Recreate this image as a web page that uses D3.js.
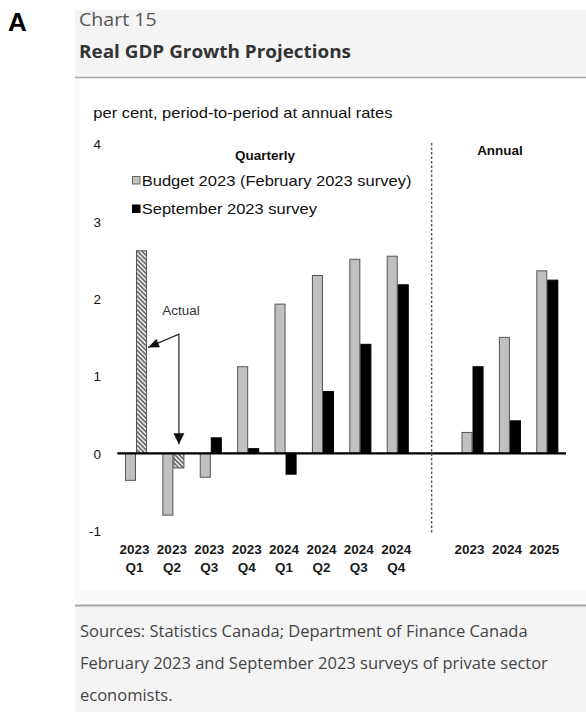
<!DOCTYPE html>
<html>
<head>
<meta charset="utf-8">
<script src="https://cdn.jsdelivr.net/npm/d3@7/dist/d3.min.js"></script>
<style>
  html, body { margin: 0; padding: 0; background: #fff; }
  svg { display: block; }
</style>
</head>
<body>
<svg id="chart" width="586" height="712"></svg>
<script>
// ---- data ----
const quarters = ["2023 Q1", "2023 Q2", "2023 Q3", "2023 Q4", "2024 Q1", "2024 Q2", "2024 Q3", "2024 Q4"];
const years = ["2023", "2024", "2025"];
const budgetQuarterly = [-0.35, -0.80, -0.31, 1.12, 1.93, 2.30, 2.51, 2.55];
const septemberQuarterly = [2.62, -0.19, 0.20, 0.06, -0.27, 0.80, 1.41, 2.18];
const budgetAnnual = [0.27, 1.50, 2.36];
const septemberAnnual = [1.12, 0.42, 2.24];
const actualQuarters = ["2023 Q1", "2023 Q2"];
const yTicks = [-1, 0, 1, 2, 3, 4];
const seriesKeys = ["budget", "september"];
const seriesNames = ["Budget 2023 (February 2023 survey)", "September 2023 survey"];
const footerLines = [
  "Sources: Statistics Canada; Department of Finance Canada",
  "February 2023 and September 2023 surveys of private sector",
  "economists."
];

const GAP = "|";
const slots = [...quarters, GAP, ...years];

const rows = [
  ...quarters.map((q, i) => ({ slot: q, budget: budgetQuarterly[i], september: septemberQuarterly[i] })),
  ...years.map((y, i) => ({ slot: y, budget: budgetAnnual[i], september: septemberAnnual[i] }))
];

const svg = d3.select("#chart");
const sans = "'Liberation Sans', Arial, Helvetica, sans-serif";
const open = "'Open Sans', 'Noto Sans', sans-serif";

// text drawn with a slight horizontal stretch
function wideText(sel, x, yy, str, size, sx, family, anchor) {
  return sel.append("text")
    .attr("transform", `translate(${x},${yy}) scale(${sx},1)`)
    .attr("text-anchor", anchor || "start")
    .attr("font-family", family || sans).attr("font-size", size).attr("fill", "#111")
    .text(str);
}

// ---- page frame: header and footer panels ----
svg.append("rect").attr("x", 75).attr("y", 78).attr("width", 511).attr("height", 528).attr("fill", "#fafafa");
svg.append("rect").attr("x", 80).attr("y", 79).attr("width", 506).attr("height", 511).attr("fill", "#ffffff");

svg.append("rect").attr("x", 75).attr("y", 10).attr("width", 511).attr("height", 67).attr("fill", "#f4f4f4");
svg.append("line").attr("x1", 75).attr("x2", 586).attr("y1", 77.5).attr("y2", 77.5)
  .attr("stroke", "#a8a8a8").attr("stroke-width", 1.5);

svg.append("rect").attr("x", 75).attr("y", 606).attr("width", 511).attr("height", 106).attr("fill", "#f4f4f4");
svg.append("line").attr("x1", 75).attr("x2", 586).attr("y1", 605.5).attr("y2", 605.5)
  .attr("stroke", "#a8a8a8").attr("stroke-width", 2);

svg.append("text").attr("x", 8).attr("y", 31).text("A")
  .attr("font-family", sans).attr("font-weight", "bold").attr("font-size", 26).attr("fill", "#000");

wideText(svg, 79, 26, "Chart 15", 17.5, 1.12, open).attr("fill", "#555");
wideText(svg, 79, 58, "Real GDP Growth Projections", 17.5, 1.08, open)
  .attr("font-weight", "bold").attr("fill", "#333");

footerLines.forEach((line, i) => {
  wideText(svg, 80, 637 + i * 32, line, 15.5, 1.065, open).attr("fill", "#444");
});

// ---- scales ----
const x0 = d3.scaleBand().domain(slots).range([117.3, 566]).paddingInner(0.41).paddingOuter(0.205);
const x1 = d3.scaleBand().domain(seriesKeys).range([0, x0.bandwidth()]);
const y = d3.scaleLinear().domain([-1, 4]).range([530.6, 144.1]);

wideText(svg, 93.3, 118, "per cent, period-to-period at annual rates", 14, 1.18);

// ---- hatch pattern for actual outcomes ----
const defs = svg.append("defs");
const pat = defs.append("pattern").attr("id", "hatch").attr("patternUnits", "userSpaceOnUse")
  .attr("width", 3.2).attr("height", 3.2).attr("patternTransform", "rotate(-45)");
pat.append("rect").attr("width", 3.2).attr("height", 3.2).attr("fill", "#e4e4e4");
pat.append("line").attr("x1", 0.8).attr("x2", 0.8).attr("y1", 0).attr("y2", 3.2)
  .attr("stroke", "#3a3a3a").attr("stroke-width", 1.1);

// ---- y axis (labels only) ----
const yAxis = d3.axisLeft(y).tickValues(yTicks).tickSize(0).tickPadding(0).tickFormat(d => String(d));
const gy = svg.append("g").attr("transform", "translate(101,0)").call(yAxis);
gy.select(".domain").remove();
gy.selectAll("text").attr("font-family", sans).attr("font-size", 13.5).attr("fill", "#111")
  .attr("dy", "0.35em").attr("x", 0);

// ---- bars ----
const groups = svg.append("g").selectAll("g").data(rows).join("g")
  .attr("transform", d => `translate(${x0(d.slot)},0)`);

groups.selectAll("rect").data(d => seriesKeys.map(k => ({ key: k, value: d[k], slot: d.slot }))).join("rect")
  .attr("x", d => x1(d.key) + 0.5)
  .attr("width", x1.bandwidth() - 1)
  .attr("y", d => y(Math.max(0, d.value)))
  .attr("height", d => Math.abs(y(d.value) - y(0)))
  .attr("fill", d => {
    if (d.key === "september") return actualQuarters.includes(d.slot) ? "url(#hatch)" : "#000";
    return "#c0c0c0";
  })
  .attr("stroke", d => d.key === "september" && !actualQuarters.includes(d.slot) ? "#000" : "#555")
  .attr("stroke-width", 1);

// zero line
svg.append("line").attr("x1", x0.range()[0]).attr("x2", x0.range()[1])
  .attr("y1", y(0)).attr("y2", y(0)).attr("stroke", "#000").attr("stroke-width", 2.2);

// quarterly / annual divider
const divX = x0(GAP) + x0.bandwidth() / 2 - 3.5;
svg.append("line").attr("x1", divX).attr("x2", divX).attr("y1", y(4) - 1).attr("y2", y(-1) + 4)
  .attr("stroke", "#555").attr("stroke-width", 1.4).attr("stroke-dasharray", "2.5,2");

// ---- x labels ----
const xl = svg.append("g").attr("font-family", sans).attr("font-weight", "bold")
  .attr("font-size", 13.5).attr("fill", "#1a1a1a").attr("text-anchor", "middle");
quarters.forEach(q => {
  const cx = x0(q) + x0.bandwidth() / 2 - 1.5;
  const [yr, qt] = q.split(" ");
  xl.append("text").attr("x", cx).attr("y", 554).text(yr);
  xl.append("text").attr("x", cx).attr("y", 572).text(qt);
});
years.forEach(yr => {
  xl.append("text").attr("x", x0(yr) + x0.bandwidth() / 2 - 3).attr("y", 554).text(yr);
});

// ---- section headings and legend ----
svg.append("text").attr("x", 265).attr("y", 160).attr("text-anchor", "middle")
  .attr("font-family", sans).attr("font-weight", "bold").attr("font-size", 13.5).attr("fill", "#111")
  .text("Quarterly");
svg.append("text").attr("x", 500).attr("y", 155).attr("text-anchor", "middle")
  .attr("font-family", sans).attr("font-weight", "bold").attr("font-size", 13.5).attr("fill", "#111")
  .text("Annual");

const legend = svg.append("g");
seriesKeys.forEach((k, i) => {
  const ly = 180.5 + i * 28.5;
  legend.append("rect").attr("x", 132.5).attr("y", ly - 4).attr("width", 7.5).attr("height", 7.5)
    .attr("fill", k === "budget" ? "#c0c0c0" : "#000").attr("stroke", k === "budget" ? "#666" : "#000")
    .attr("stroke-width", 1);
  wideText(legend, 141.7, ly + 5, seriesNames[i], 14, 1.18);
});

// ---- "Actual" annotation pointing at the two released quarters ----
const q1 = quarters[0], q2 = quarters[1];
const tip1 = [x0(q1) + x1("september") + x1.bandwidth() + 1, y(1.37)];
const elbow = [x0(q2) + x1("september") + x1.bandwidth() / 2, y(1.54)];
const tip2 = [elbow[0], y(0) - 9];

const ann = svg.append("g");
ann.append("path")
  .attr("d", d3.line()([tip1, elbow, tip2]))
  .attr("fill", "none").attr("stroke", "#222").attr("stroke-width", 1.2);

function arrowHead(tip, from, len, half) {
  const dx = tip[0] - from[0], dy = tip[1] - from[1];
  const L = Math.hypot(dx, dy), ux = dx / L, uy = dy / L;
  const bx = tip[0] - ux * len, by = tip[1] - uy * len;
  return [tip, [bx - uy * half, by + ux * half], [bx + uy * half, by - ux * half]];
}
ann.append("path").attr("d", d3.line()(arrowHead(tip1, elbow, 11, 4.5)) + "Z").attr("fill", "#111");
ann.append("path").attr("d", d3.line()(arrowHead(tip2, elbow, 11, 5.5)) + "Z").attr("fill", "#111");

ann.append("text").attr("x", 181).attr("y", 315).attr("text-anchor", "middle")
  .attr("font-family", sans).attr("font-size", 13.5).attr("fill", "#333").text("Actual");
</script>
</body>
</html>
